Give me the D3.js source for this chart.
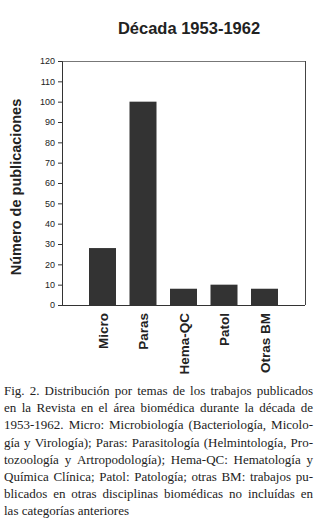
<!DOCTYPE html>
<html>
<head>
<meta charset="utf-8">
<script src="https://cdn.jsdelivr.net/npm/d3@7"></script>
<style>
  body { margin: 0; background: #fff; }
  svg { display: block; }
</style>
</head>
<body>
<div id="chart"></div>
<script>
var categories = ["Micro", "Paras", "Hema-QC", "Patol", "Otras BM"];
var counts     = [28, 100, 8, 10, 8];
var yTicks     = [0, 10, 20, 30, 40, 50, 60, 70, 80, 90, 100, 110, 120];
var title      = "Década 1953-1962";
var yLabel     = "Número de publicaciones";
var captionLines = [
  "Fig. 2. Distribución por temas de los trabajos publicados",
  "en la Revista en el área biomédica durante la década de",
  "1953-1962. Micro: Microbiología (Bacteriología, Micolo-",
  "gía y Virología); Paras: Parasitología (Helmintología, Pro-",
  "tozoología y Artropodología); Hema-QC: Hematología y",
  "Química Clínica; Patol: Patología; otras BM: trabajos pu-",
  "blicados en otras disciplinas biomédicas no incluídas en",
  "las categorías anteriores"
];

var W = 318, H = 521;
var plotL = 62, plotR = 305, plotT = 61, plotB = 305;

var svg = d3.select("#chart").append("svg").attr("width", W).attr("height", H);

svg.append("text")
  .attr("x", 189).attr("y", 34)
  .attr("text-anchor", "middle")
  .attr("font-family", "Liberation Sans, Arial, sans-serif")
  .attr("font-weight", "bold").attr("font-size", 16.5)
  .attr("fill", "#222")
  .text(title);

var x = d3.scalePoint().domain(categories).range([plotL, plotR]).padding(1);
var y = d3.scaleLinear().domain([0, 120]).range([plotB, plotT]);
var barW = 27;

// frame
svg.append("line").attr("x1", plotL).attr("x2", plotR).attr("y1", plotT + 0.5).attr("y2", plotT + 0.5)
  .attr("stroke", "#777").attr("stroke-width", 1);
svg.append("line").attr("x1", plotR + 0.5).attr("x2", plotR + 0.5).attr("y1", plotT).attr("y2", plotB)
  .attr("stroke", "#444").attr("stroke-width", 1);

svg.selectAll("rect.bar")
  .data(counts)
  .enter()
  .append("rect")
  .attr("class", "bar")
  .attr("x", function(d, i) { return x(categories[i]) - barW / 2; })
  .attr("y", function(d) { return y(d); })
  .attr("width", barW)
  .attr("height", function(d) { return y(0) - y(d); })
  .attr("fill", "#333");

var yAxis = d3.axisLeft(y).tickValues(yTicks).tickSize(4).tickPadding(3);
var gy = svg.append("g")
  .attr("transform", "translate(" + plotL + ",0)")
  .call(yAxis);
gy.selectAll("text")
  .attr("font-family", "Liberation Sans, Arial, sans-serif")
  .attr("font-size", 9).attr("fill", "#222");
gy.selectAll("line, path").attr("stroke", "#333");

var xAxis = d3.axisBottom(x).tickSize(0).tickPadding(0);
var gx = svg.append("g")
  .attr("transform", "translate(0," + plotB + ")")
  .call(xAxis);
gx.select("path").attr("d", "M" + plotL + ",0.5H" + plotR).attr("stroke", "#333");
gx.selectAll("text")
  .attr("font-family", "Liberation Sans, Arial, sans-serif")
  .attr("font-weight", "bold").attr("font-size", 13.5).attr("fill", "#222")
  .attr("text-anchor", "end")
  .attr("dy", "0.35em")
  .attr("transform", "translate(0,8) rotate(-90)")
  .attr("y", 0).attr("x", 0);

svg.append("text")
  .attr("transform", "translate(21,187) rotate(-90)")
  .attr("text-anchor", "middle")
  .attr("font-family", "Liberation Sans, Arial, sans-serif")
  .attr("font-weight", "bold").attr("font-size", 14.5)
  .attr("fill", "#222")
  .text(yLabel);

// caption, justified word by word
var capLeft = 4, capRight = 313, capY0 = 395, capStep = 17.2;
captionLines.forEach(function(line, li) {
  var words = line.split(" ");
  var g = svg.append("g");
  var nodes = words.map(function(w) {
    return g.append("text")
      .attr("font-family", "Liberation Serif, Times New Roman, serif")
      .attr("font-size", 13).attr("fill", "#222")
      .attr("y", capY0 + li * capStep)
      .text(w);
  });
  var widths = nodes.map(function(n) { return n.node().getComputedTextLength(); });
  var total = d3.sum(widths);
  var last = li === captionLines.length - 1;
  var gap = (!last && words.length > 1) ? (capRight - capLeft - total) / (words.length - 1) : 3.3;
  var cx = capLeft;
  nodes.forEach(function(n, i) {
    n.attr("x", cx);
    cx += widths[i] + gap;
  });
});
</script>
</body>
</html>
